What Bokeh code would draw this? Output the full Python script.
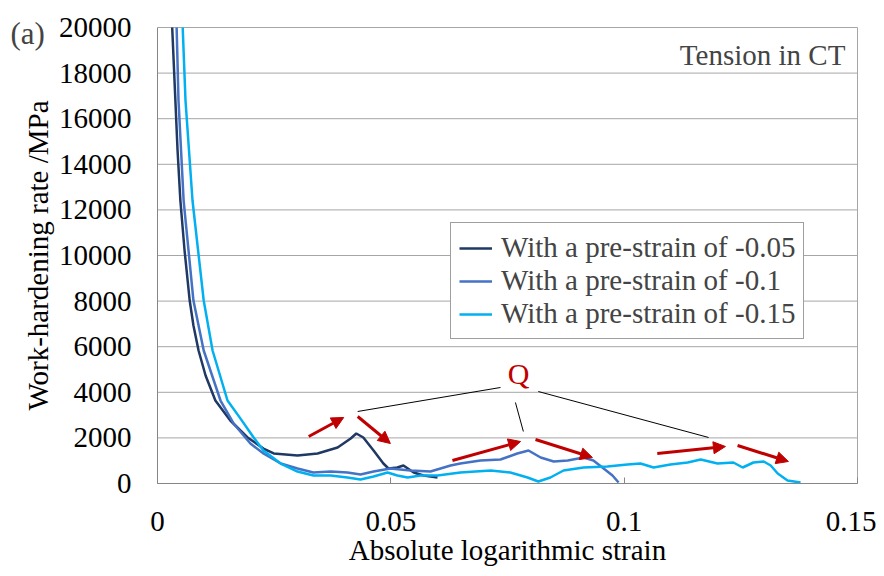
from bokeh.plotting import figure
from bokeh.models import (Range1d, FixedTicker, NumeralTickFormatter, Legend, LegendItem,
                          Arrow, NormalHead, Label, ColumnDataSource, LinearAxis)
from bokeh.embed import file_html
from bokeh.resources import INLINE

# data ######################################################################

strain_005 = [0.00315, 0.0043, 0.0049, 0.0058, 0.0069, 0.0077, 0.0088, 0.0103, 0.0124, 0.0156,
              0.0193, 0.0227, 0.0249, 0.030, 0.0343, 0.0386, 0.0414, 0.0426, 0.0441, 0.0463,
              0.0484, 0.0495, 0.0514, 0.0527, 0.0549, 0.057, 0.06]
rate_005 = [20000, 14605, 12412, 10219, 8026, 6930, 5833, 4737, 3640, 2763,
            2018, 1535, 1316, 1228, 1316, 1579, 1974, 2193, 2018, 1447,
            877, 658, 702, 790, 482, 351, 263]

strain_01 = [0.0041, 0.0045, 0.0056, 0.0077, 0.0099, 0.0135, 0.0163, 0.0199, 0.0227, 0.0264,
             0.030, 0.0334, 0.0371, 0.0407, 0.0435, 0.0463, 0.0499, 0.0542, 0.0585, 0.0628,
             0.0649, 0.0692, 0.0735, 0.0771, 0.0795, 0.0821, 0.0849, 0.0879, 0.0913, 0.0934,
             0.0956, 0.0975, 0.0988]
rate_01 = [20000, 16798, 12412, 8026, 5833, 3640, 2632, 1754, 1316, 877,
           658, 482, 526, 482, 395, 526, 658, 570, 526, 790,
           877, 1009, 1053, 1316, 1447, 1140, 965, 1009, 1140, 1009,
           658, 351, 44]

strain_015 = [0.0054, 0.006, 0.0075, 0.0099, 0.0118, 0.015, 0.0176, 0.0206, 0.0227, 0.0264,
              0.030, 0.0334, 0.0371, 0.0407, 0.0435, 0.0463, 0.0493, 0.0514, 0.0536, 0.0564,
              0.06, 0.0649, 0.0714, 0.0756, 0.0793, 0.0816, 0.0842, 0.087, 0.0913, 0.0964,
              0.1007, 0.1035, 0.1063, 0.1099, 0.1136, 0.1164, 0.12, 0.1234, 0.1254, 0.1277,
              0.1299, 0.1314, 0.1329, 0.135, 0.1378]
rate_015 = [20000, 16798, 12412, 8026, 5833, 3640, 2900, 2018, 1447, 877,
            526, 351, 351, 263, 175, 307, 482, 351, 263, 351,
            351, 482, 570, 482, 263, 88, 263, 570, 702, 746,
            833, 877, 702, 833, 921, 1053, 877, 921, 702, 921,
            965, 790, 439, 132, 44]

series_labels = ["With a pre-strain of -0.05", "With a pre-strain of -0.1", "With a pre-strain of -0.15"]
series_colors = ["#203864", "#4472C4", "#00B0F0"]

x_min, x_max = 0, 0.15
y_min, y_max = 0, 20000
x_ticks = [0, 0.05, 0.1, 0.15]
y_ticks = list(range(0, 20001, 2000))

# red arrows around the Q points
arrow_x0 = [0.0324, 0.0429, 0.0632, 0.0810, 0.1071, 0.1243]
arrow_y0 = [2061, 2939, 1009, 1930, 1316, 1667]
arrow_x1 = [0.0399, 0.0499, 0.0778, 0.0932, 0.1217, 0.1352]
arrow_y1 = [2895, 1754, 1842, 1140, 1623, 965]

# black leader lines from the Q label
lead_x0 = [0.0429, 0.0767, 0.0816]
lead_y0 = [3158, 3553, 4035]
lead_x1 = [0.0735, 0.0784, 0.1181]
lead_y1 = [4211, 2281, 2018]

###############################################################################

FONT = "Liberation Serif"
FS = "29px"

# The frame fills the whole canvas so that the "(a)" tag is not clipped away;
# the axes sit at fixed locations inside it.  Pixel layout of the plot area:
W, H = 876, 568
left, right, top, bottom = 157, 857, 27, 483
xs_per_px = (x_max - x_min) / (right - left)
ys_per_px = (y_max - y_min) / (bottom - top)
x_range = Range1d(x_min - left * xs_per_px, x_max + (W - right) * xs_per_px)
y_range = Range1d(y_min - (H - bottom) * ys_per_px, y_max + top * ys_per_px)

p = figure(width=W, height=H, x_range=x_range, y_range=y_range,
           x_axis_type=None, y_axis_type=None,
           output_backend="svg", toolbar_location=None, min_border=0)
p.outline_line_color = None
p.background_fill_color = "white"
p.border_fill_color = "white"

# horizontal gridlines and the right border of the plot area
n = len(y_ticks)
p.segment([x_min] * n, y_ticks, [x_max] * n, y_ticks, line_color="#A6A6A6", line_width=1)
p.segment([x_max], [y_min], [x_max], [y_max], line_color="#A6A6A6", line_width=1)

xaxis = LinearAxis(fixed_location=y_min, bounds=(x_min, x_max),
                   ticker=FixedTicker(ticks=x_ticks), formatter=NumeralTickFormatter(format="0.[00]"),
                   axis_label="Absolute logarithmic strain",
                   major_tick_in=6, major_tick_out=0, major_label_standoff=28, axis_label_standoff=0)
yaxis = LinearAxis(fixed_location=x_min, bounds=(y_min, y_max),
                   ticker=FixedTicker(ticks=y_ticks), formatter=NumeralTickFormatter(format="0"),
                   axis_label="Work-hardening rate /MPa",
                   major_tick_in=0, major_tick_out=0, major_label_standoff=26, axis_label_standoff=2)
for ax in (xaxis, yaxis):
    ax.axis_line_color = "#868686"
    ax.major_tick_line_color = "#868686"
    ax.minor_tick_line_color = None
    ax.major_label_text_font = FONT
    ax.major_label_text_font_size = FS
    ax.major_label_text_color = "black"
    ax.axis_label_text_font = FONT
    ax.axis_label_text_font_size = FS
    ax.axis_label_text_font_style = "normal"
    ax.axis_label_text_color = "black"
p.add_layout(xaxis, "below")
p.add_layout(yaxis, "left")

lines = []
for xs, ys, col in zip([strain_005, strain_01, strain_015], [rate_005, rate_01, rate_015], series_colors):
    lines.append(p.line(xs, ys, line_color=col, line_width=2.5))

p.segment(lead_x0, lead_y0, lead_x1, lead_y1, line_color="black", line_width=1)

arrows = ColumnDataSource(dict(x0=arrow_x0, y0=arrow_y0, x1=arrow_x1, y1=arrow_y1))
p.add_layout(Arrow(source=arrows, x_start="x0", y_start="y0", x_end="x1", y_end="y1",
                   line_color="#C00000", line_width=3,
                   end=NormalHead(size=12, fill_color="#C00000", line_color="#C00000")))

p.add_layout(Label(x=0.0774, y=4825, text="Q", text_font=FONT, text_font_size="30px",
                   text_color="#C00000", text_align="center", text_baseline="middle"))
p.add_layout(Label(x=0.1474, y=18772, text="Tension in CT", text_font=FONT, text_font_size=FS,
                   text_align="right", text_baseline="middle"))
p.add_layout(Label(x=x_min, y=y_max, x_offset=10 - left, y_offset=top - 33, text="(a)", text_font=FONT,
                   text_font_size="31px", text_align="left", text_baseline="middle"))

legend = Legend(items=[LegendItem(label=lab, renderers=[r]) for lab, r in zip(series_labels, lines)],
                location=(left + 293, H - bottom + 144), orientation="vertical")
legend.label_text_font = FONT
legend.label_text_font_size = FS
legend.glyph_width = 33
legend.label_standoff = 9
legend.spacing = 0
legend.padding = 8
legend.margin = 0
legend.border_line_color = "#404040"
legend.border_line_width = 1
legend.background_fill_alpha = 1
p.add_layout(legend)

open("out.html", "w").write(file_html(p, INLINE))
